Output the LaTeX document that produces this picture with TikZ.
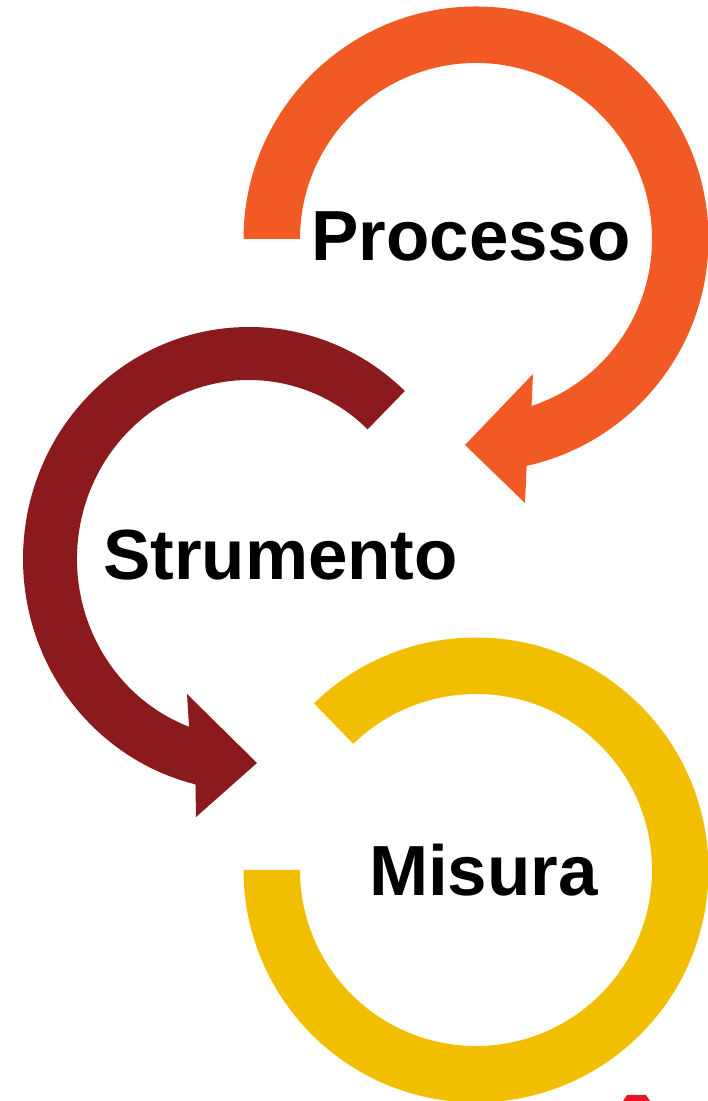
\documentclass[tikz,border=0pt]{standalone}
\usepackage{fontspec}
\setmainfont{Liberation Sans}
\usepackage{xcolor}
\usepackage{tikz}
\usetikzlibrary{calc}
\definecolor{arancio}{RGB}{241,90,36}
\definecolor{bordeaux}{RGB}{139,26,30}
\definecolor{giallo}{RGB}{242,190,0}
\definecolor{rosso}{RGB}{227,24,36}

\begin{document}
\begin{tikzpicture}[x=0.02cm, y=0.02cm,
  lbl/.style={font=\fontsize{40.4}{48}\selectfont\bfseries, inner sep=0pt}]
\useasboundingbox (0,0) rectangle (707,1101);
\coordinate (oc) at (476,862);
\coordinate (rc) at (249,542);
\coordinate (yc) at (476,231);
% processo
\fill[arancio] ($(oc)+(180:232.5)$) arc[start angle=180, end angle=-77.4, radius=232.5]
  -- (525,598) -- (465,656) -- (533,727) -- ($(oc)+(-71.6:176)$)
  arc[start angle=-71.6, end angle=180, radius=176] -- cycle;
% strumento
\fill[bordeaux] ($(rc)+(46.4:226 and 232)$) arc[start angle=46.4, end angle=256.3, x radius=226, y radius=232]
  -- (196,284) -- (257,338) -- (187,407) -- ($(rc)+(249.6:172 and 179)$)
  arc[start angle=249.6, end angle=46.4, x radius=172, y radius=179] -- cycle;
% misura
\fill[giallo] ($(yc)+(134.2:232.5)$) arc[start angle=134.2, end angle=-180, radius=232.5]
  -- ($(yc)+(180:176)$) arc[start angle=-180, end angle=134.2, radius=176] -- cycle;
\fill[rosso] (623,0) -- (627,6) -- (646,6) -- (650,0) -- cycle;
\node[lbl] (proc) at (471,864.5) {Processo};
\node[lbl] (strum) at (280.5,545.5) {Strumento};
\node[lbl] (mis) at (483.5,231) {Misura};
\end{tikzpicture}
\end{document}
